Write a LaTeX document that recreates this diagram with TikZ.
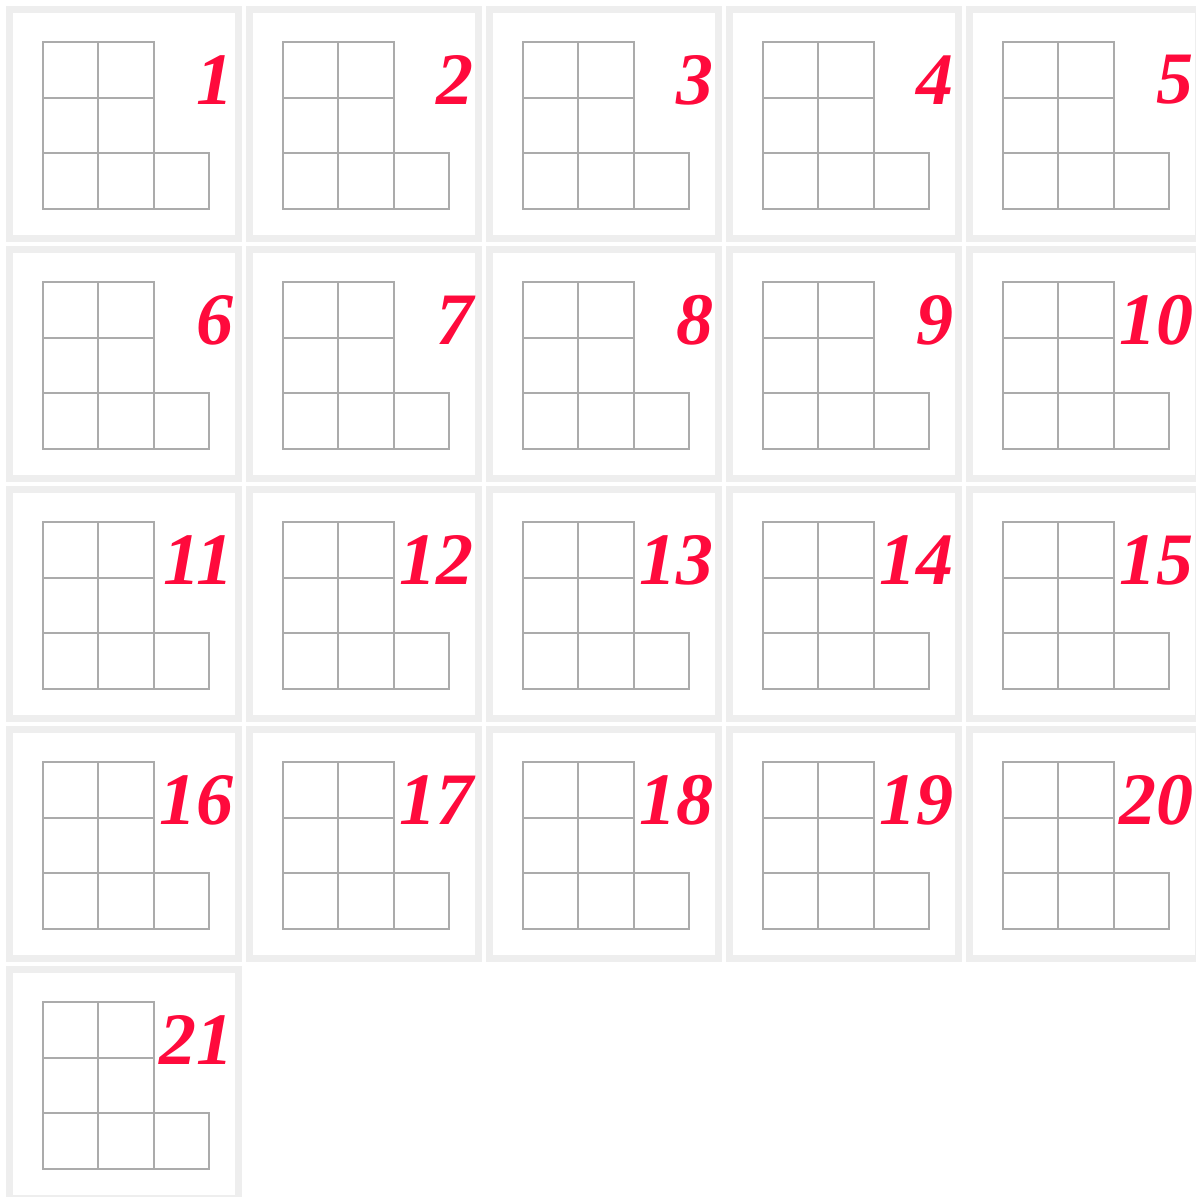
\documentclass[tikz,border=0pt]{standalone}
\usepackage{fontspec}
\newfontfamily\numfont{Liberation Serif}
\usepackage{tikz}
\usetikzlibrary{positioning}
\usetikzlibrary{calc}
\definecolor{framegray}{HTML}{EEEEEE}
\definecolor{cellgray}{HTML}{ABABAB}
\definecolor{numred}{HTML}{FF0A3C}

\begin{document}
\begin{tikzpicture}[x=1pt, y=-1pt,
    panel/.style={draw=framegray, line width=7pt},
    cell/.style={draw=cellgray, line width=2pt, minimum size=55.5pt, inner sep=0pt, anchor=north west},
    num/.style={text=numred, font=\numfont\fontsize{74}{74}\selectfont\bfseries\itshape, inner sep=0pt, anchor=east}]

        \useasboundingbox (0,0) rectangle (1196,1197);

        % Number of panels
        \def\npanels{21}

        % Panels per row
        \def\perrow{5}

        % Distance between panels
        \def\pitch{240}

        % Side of one cell
        \def\csize{55.5}

        % Draw each panel with its diagram and number
        \foreach \n in {1,...,\npanels} {
          \pgfmathtruncatemacro{\col}{mod(\n-1,\perrow)}
          \pgfmathtruncatemacro{\row}{div(\n-1,\perrow)}
          % Top left corner of the panel
          \coordinate (p\n) at (\col*\pitch, \row*\pitch);

          % Frame
          \draw[panel] ($(p\n)+(9.5,9.5)$) rectangle ($(p\n)+(238.5,238.5)$);

          % Cells: two rows of two, then one row of three
          \foreach \j/\k in {0/1, 1/1, 2/2} {
            \foreach \i in {0,...,\k} {
              \node[cell] (c\n-\j\i) at ($(p\n)+(41.5+\i*\csize, 41+\j*\csize)$) {};
            }
          }

          % Number in the upper right corner
          \node[num] (n\n) at ($(p\n)+(234,80)$) {\n};
        }

      \end{tikzpicture}
\end{document}
